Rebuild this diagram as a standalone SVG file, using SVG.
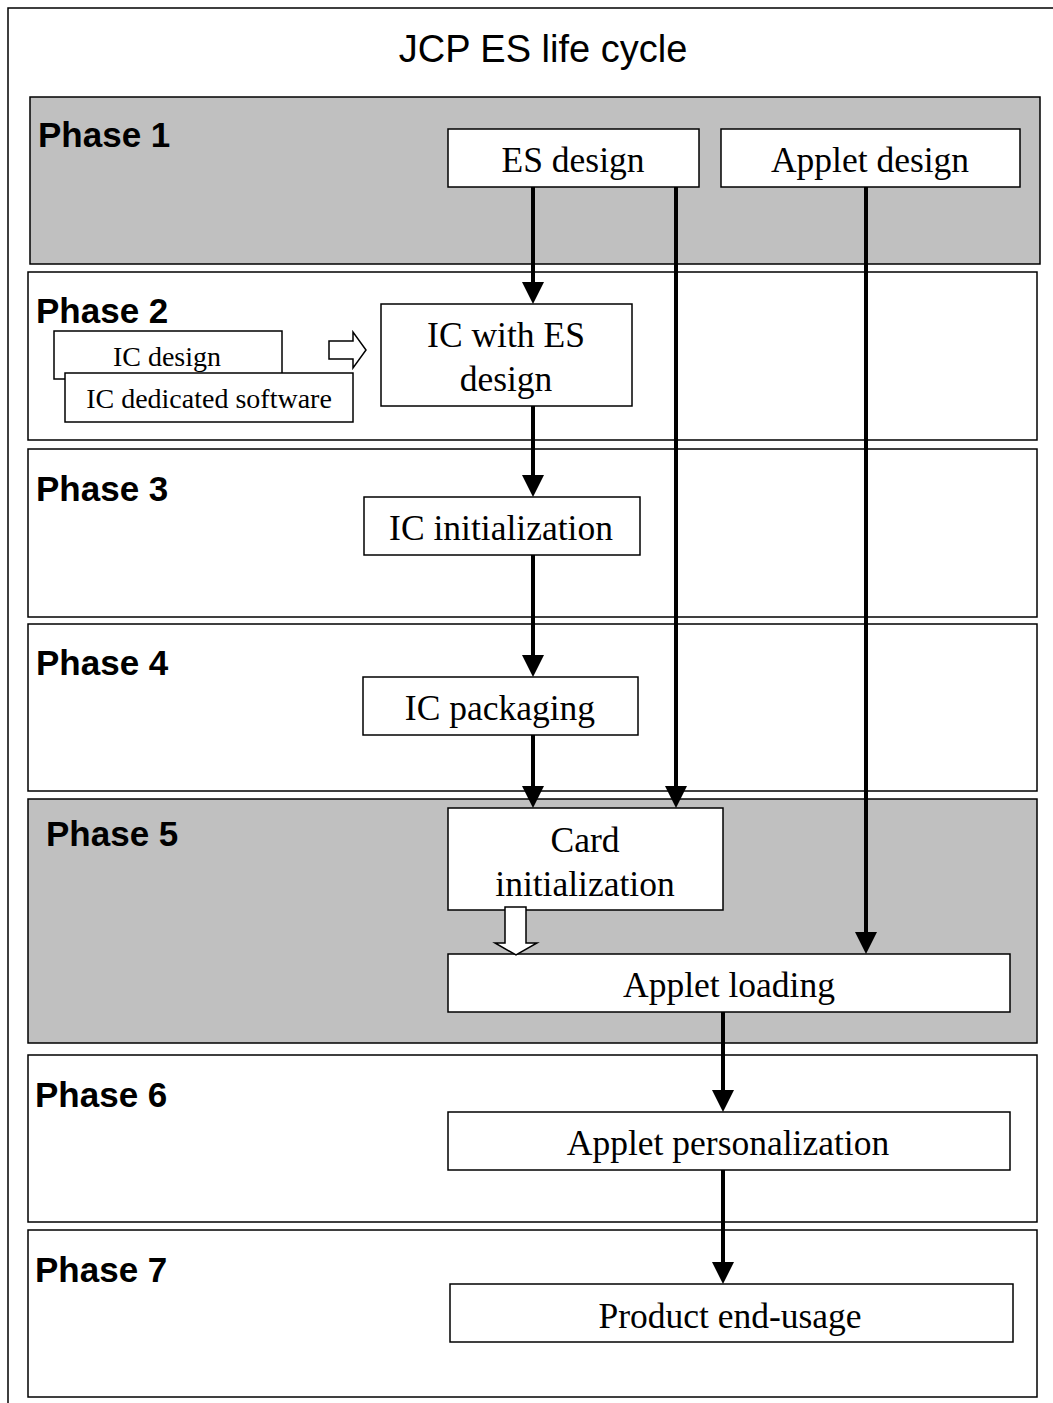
<svg xmlns="http://www.w3.org/2000/svg" width="1053" height="1403" viewBox="0 0 1053 1403">
<style>
.band{stroke:#000;stroke-width:1.5}
.gray{fill:#c0c0c0}
.white{fill:#fff}
.box{fill:#fff;stroke:#000;stroke-width:1.5}
.ph{font-family:"Liberation Sans",Arial,sans-serif;font-weight:bold;font-size:35px;fill:#000}
.t{font-family:"Liberation Serif","Times New Roman",serif;font-size:35.5px;fill:#000;text-anchor:middle}
.ts{font-family:"Liberation Serif","Times New Roman",serif;font-size:28px;fill:#000;text-anchor:middle}
.conn{stroke:#000;stroke-width:4;fill:none;marker-end:url(#ah)}
.hollow{fill:#fff;stroke:#000;stroke-width:1.5}
</style>
<defs>
<marker id="ah" markerUnits="userSpaceOnUse" markerWidth="22" markerHeight="22" refX="4" refY="11" orient="auto">
<path d="M0,0 L22,11 L0,22 Z" fill="#000"/>
</marker>
</defs>
<rect width="1053" height="1403" fill="#fff"/>
<rect x="8" y="8" width="1060" height="1410" fill="none" stroke="#000" stroke-width="1.5"/>
<text x="543" y="62" font-family="Liberation Sans, Arial, sans-serif" font-size="38" text-anchor="middle">JCP ES life cycle</text>

<g id="phase1"><rect class="band gray" x="30" y="97" width="1010" height="167"/><text class="ph" x="38" y="147">Phase 1</text></g>
<g id="phase2"><rect class="band white" x="28" y="272" width="1009" height="168"/><text class="ph" x="36" y="323">Phase 2</text></g>
<g id="phase3"><rect class="band white" x="28" y="449" width="1009" height="168"/><text class="ph" x="36" y="501">Phase 3</text></g>
<g id="phase4"><rect class="band white" x="28" y="624" width="1009" height="167"/><text class="ph" x="36" y="675">Phase 4</text></g>
<g id="phase5"><rect class="band gray" x="28" y="799" width="1009" height="244"/><text class="ph" x="46" y="846">Phase 5</text></g>
<g id="phase6"><rect class="band white" x="28" y="1055" width="1009" height="167"/><text class="ph" x="35" y="1107">Phase 6</text></g>
<g id="phase7"><rect class="band white" x="28" y="1230" width="1009" height="167"/><text class="ph" x="35" y="1282">Phase 7</text></g>

<g id="es-design"><rect class="box" x="448" y="129" width="251" height="58"/><text class="t" x="573" y="172">ES design</text></g>
<g id="applet-design"><rect class="box" x="721" y="129" width="299" height="58"/><text class="t" x="870" y="172">Applet design</text></g>
<g id="ic-design"><rect class="box" x="54" y="331" width="228" height="48"/><text class="ts" x="167" y="366">IC design</text></g>
<g id="ic-software"><rect class="box" x="65" y="373" width="288" height="49"/><text class="ts" x="209" y="408">IC dedicated software</text></g>
<g id="ic-es-design"><rect class="box" x="381" y="304" width="251" height="102"/><text class="t" x="506" y="347">IC with ES</text><text class="t" x="506" y="391">design</text></g>
<g id="ic-init"><rect class="box" x="364" y="497" width="276" height="58"/><text class="t" x="501" y="540">IC initialization</text></g>
<g id="ic-packaging"><rect class="box" x="363" y="677" width="275" height="58"/><text class="t" x="500" y="720">IC packaging</text></g>
<g id="card-init"><rect class="box" x="448" y="808" width="275" height="102"/><text class="t" x="585" y="852">Card</text><text class="t" x="585" y="896">initialization</text></g>
<g id="applet-loading"><rect class="box" x="448" y="954" width="562" height="58"/><text class="t" x="729" y="997">Applet loading</text></g>
<g id="applet-perso"><rect class="box" x="448" y="1112" width="562" height="58"/><text class="t" x="728" y="1155">Applet personalization</text></g>
<g id="product-end"><rect class="box" x="450" y="1284" width="563" height="58"/><text class="t" x="730" y="1328">Product end-usage</text></g>

<g id="connectors">
<line class="conn" x1="533" y1="187" x2="533" y2="286"/>
<line class="conn" x1="676" y1="187" x2="676" y2="790"/>
<line class="conn" x1="866" y1="187" x2="866" y2="936"/>
<line class="conn" x1="533" y1="406" x2="533" y2="479"/>
<line class="conn" x1="533" y1="555" x2="533" y2="659"/>
<line class="conn" x1="533" y1="735" x2="533" y2="790"/>
<line class="conn" x1="723" y1="1012" x2="723" y2="1094"/>
<line class="conn" x1="723" y1="1170" x2="723" y2="1266"/>
<path class="hollow" d="M329,341 L353,341 L353,332 L366,350 L353,368 L353,359 L329,359 Z"/>
<path class="hollow" d="M505,907 L526,907 L526,943 L537,943 L516,955 L495,943 L505,943 Z"/>
</g>
</svg>
